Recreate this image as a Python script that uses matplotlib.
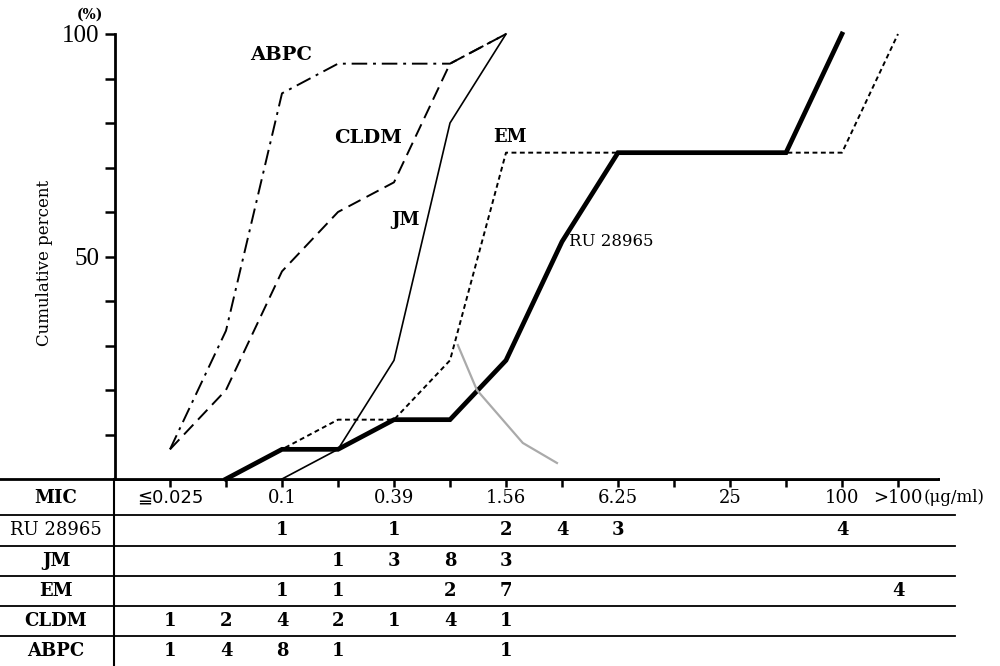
import numpy as np
import matplotlib
matplotlib.use("Agg")
import matplotlib.pyplot as plt

plt.rcParams['font.family'] = ['DejaVu Serif', 'DejaVu Sans', 'Noto Sans CJK JP']

# MIC categories (ug/ml), two-fold dilutions
mic = ['≦0.025', '0.05', '0.1', '0.2', '0.39', '0.78', '1.56',
       '3.13', '6.25', '12.5', '25', '50', '100', '>100']
mic_shown = ['≦0.025', '', '0.1', '', '0.39', '', '1.56',
             '', '6.25', '', '25', '', '100', '>100']

# number of strains per MIC
drugs = ['RU 28965', 'JM', 'EM', 'CLDM', 'ABPC']
ru28965 = [0, 0, 1, 0, 1, 0, 2, 4, 3, 0, 0, 0, 4, 0]
jm = [0, 0, 0, 1, 3, 8, 3, 0, 0, 0, 0, 0, 0, 0]
em = [0, 0, 1, 1, 0, 2, 7, 0, 0, 0, 0, 0, 0, 4]
cldm = [1, 2, 4, 2, 1, 4, 1, 0, 0, 0, 0, 0, 0, 0]
abpc = [1, 4, 8, 1, 0, 0, 1, 0, 0, 0, 0, 0, 0, 0]
counts = [ru28965, jm, em, cldm, abpc]

# stray pencil mark on the scan
stray_x = [5.14, 5.48, 6.30, 6.91]
stray_y = [30.1, 20.0, 8.1, 3.6]

W, H = 1000, 666
fig = plt.figure(figsize=(10, 6.66), dpi=100)


def px(x0, y0, x1, y1):
    # pixel box -> figure fraction [left, bottom, width, height]
    return [x0 / W, 1 - y1 / H, (x1 - x0) / W, (y1 - y0) / H]


def cat(p):
    # pixel x -> category coordinate
    return (p - 170) / 56.0


# ---- table below ----
tab = fig.add_axes(px(0, 479, 955, 666))
tab.set_xlim(cat(0), cat(955))
tab.set_ylim(187, 0)
tab.axis('off')
tab.plot([cat(0), cat(938)], [0, 0], color='black', lw=2, clip_on=False)
for yl in [36, 67, 97, 127, 157]:
    tab.plot([cat(0), cat(955)], [yl, yl], color='black', lw=1.3, clip_on=False)
tab.plot([cat(114), cat(114)], [0, 187], color='black', lw=1.5, clip_on=False)

row_y = [19, 51, 82, 112, 142, 172]
lab_x = cat(56)
tab.text(lab_x, row_y[0], 'MIC', ha='center', va='center', fontsize=13, fontweight='bold')
for i, lab in enumerate(mic_shown):
    if lab:
        tab.text(i, row_y[0], lab, ha='center', va='center', fontsize=13,
                 family=['DejaVu Sans'] if lab.startswith('≦') else None)
tab.text(cat(924), row_y[0], '(μg/ml)', ha='left', va='center', fontsize=12)

for r, (name, c) in enumerate(zip(drugs, counts)):
    y = row_y[r + 1]
    tab.text(lab_x, y, name, ha='center', va='center', fontsize=13,
             fontweight='normal' if name == 'RU 28965' else 'bold')
    for i, n in enumerate(c):
        if n:
            tab.text(i, y, str(n), ha='center', va='center', fontsize=13, fontweight='bold')

# ---- cumulative curves ----
ax = fig.add_axes(px(115, 34, 938, 479))
ax.set_xlim(cat(115), cat(938))
ax.set_ylim(0, 100)

styles = {
    'RU 28965': dict(ls='-', lw=3.4),
    'JM': dict(ls='-', lw=1.2),
    'EM': dict(ls=(0, (2.5, 1.8)), lw=1.4),
    'CLDM': dict(ls=(0, (7, 3.5)), lw=1.4),
    'ABPC': dict(ls=(0, (8, 3, 1.5, 3)), lw=1.4),
}

for name, c in zip(drugs, counts):
    c = np.array(c)
    cum = np.cumsum(c) / c.sum() * 100
    first = int(np.nonzero(c)[0][0])
    last = int(np.nonzero(cum >= 99.999)[0][0])
    start = max(first - 1, 0)
    xs = np.arange(start, last + 1)
    ax.plot(xs, cum[start:last + 1], color='black', clip_on=False,
            solid_joinstyle='miter', **styles[name])

ax.plot(stray_x, stray_y, color='#aaaaaa', lw=1.6)

ax.text(1.98, 95.3, 'ABPC', ha='center', va='center', fontsize=14, fontweight='bold')
ax.text(3.54, 76.6, 'CLDM', ha='center', va='center', fontsize=14, fontweight='bold')
ax.text(4.2, 58.2, 'JM', ha='center', va='center', fontsize=13, fontweight='bold')
ax.text(6.07, 76.9, 'EM', ha='center', va='center', fontsize=13, fontweight='bold')
ax.text(7.12, 53.3, 'RU 28965', ha='left', va='center', fontsize=12)

for s in ['top', 'right']:
    ax.spines[s].set_visible(False)
ax.spines['left'].set_linewidth(2)
ax.spines['bottom'].set_linewidth(2)

ax.set_xticks(range(len(mic)))
ax.set_xticklabels([])
ax.tick_params(axis='x', direction='out', length=6, width=1.8)
ax.set_yticks(np.arange(10, 101, 10))
ax.set_yticklabels(['' if v not in (50, 100) else str(v) for v in range(10, 101, 10)],
                   fontsize=18, family='Liberation Serif')
ax.tick_params(axis='y', direction='out', length=7, width=1.8, pad=4)

fig.text(0.045, 1 - 263 / H, 'Cumulative percent', rotation=90,
         ha='center', va='center', fontsize=12)
fig.text(0.09, 1 - 15 / H, '(%)', ha='center', va='center', fontsize=10, fontweight='bold')

fig.savefig('out.png', dpi=100, facecolor='white')
